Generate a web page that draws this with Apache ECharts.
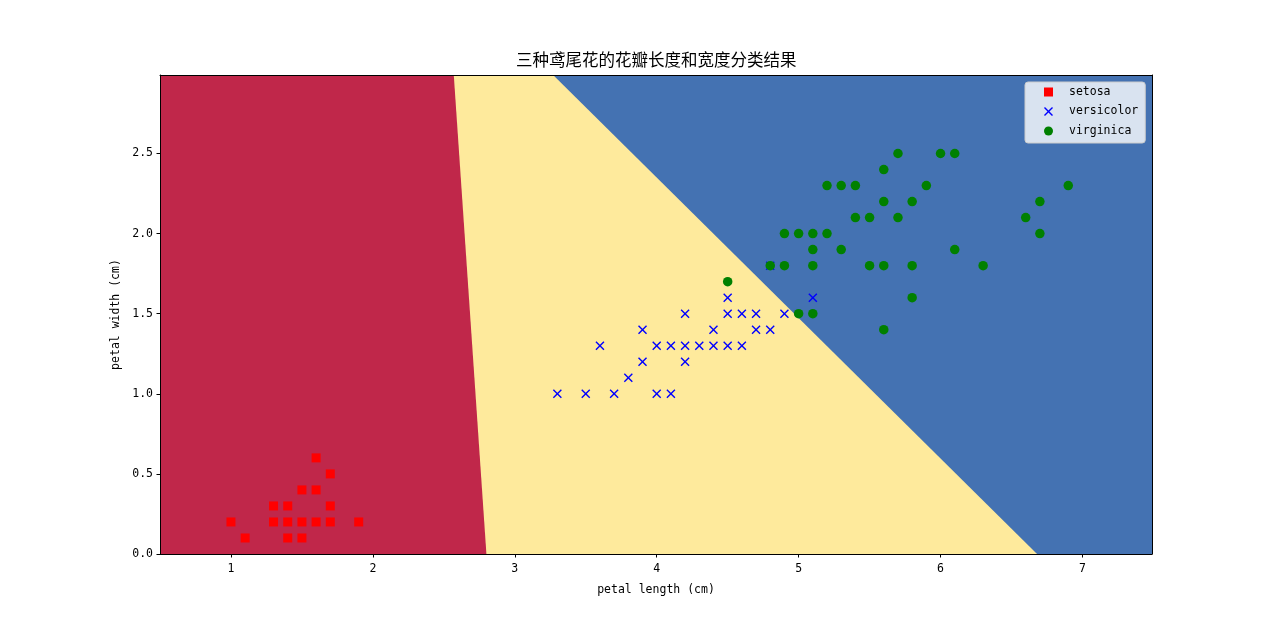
<!DOCTYPE html>
<html><head><meta charset="utf-8">
<script src="https://cdn.jsdelivr.net/npm/echarts@6/dist/echarts.min.js"></script>
<style>html,body{margin:0;padding:0;background:#fff}#c{width:1280px;height:623px}</style>
</head><body><div id="c"></div>
<script>
// ---- data ----
const titleText = '三种鸢尾花的花瓣长度和宽度分类结果';
const xName = 'petal length (cm)';
const yName = 'petal width (cm)';
const xRange = [0.5, 7.49];
const yRange = [0, 2.99];
const xTicks = [1, 2, 3, 4, 5, 6, 7];
const yTicks = [0, 0.5, 1, 1.5, 2, 2.5];
// decision boundaries (bottom point, top point)
const boundarySetosa = [[2.8, 0], [2.57, 2.99]];
const boundaryVirginica = [[6.68, 0], [3.27, 2.99]];
const classNames = ['setosa', 'versicolor', 'virginica'];
const setosa = [
  [1.6,0.6],[1.7,0.5],[1.5,0.4],[1.6,0.4],[1.3,0.3],[1.4,0.3],[1.7,0.3],
  [1.0,0.2],[1.3,0.2],[1.4,0.2],[1.5,0.2],[1.6,0.2],[1.7,0.2],[1.9,0.2],
  [1.1,0.1],[1.4,0.1],[1.5,0.1]
];
const versicolor = [
  [4.5,1.6],[5.1,1.6],[4.2,1.5],[4.5,1.5],[4.6,1.5],[4.7,1.5],[4.9,1.5],
  [3.9,1.4],[4.4,1.4],[4.7,1.4],[4.8,1.4],
  [3.6,1.3],[4.0,1.3],[4.1,1.3],[4.2,1.3],[4.3,1.3],[4.4,1.3],[4.5,1.3],[4.6,1.3],
  [3.9,1.2],[4.2,1.2],[3.8,1.1],
  [3.3,1.0],[3.5,1.0],[3.7,1.0],[4.0,1.0],[4.1,1.0],[4.8,1.8]
];
const virginica = [
  [5.7,2.5],[6.0,2.5],[6.1,2.5],[5.6,2.4],
  [5.2,2.3],[5.3,2.3],[5.4,2.3],[5.9,2.3],[6.9,2.3],
  [5.6,2.2],[5.8,2.2],[6.7,2.2],
  [5.4,2.1],[5.5,2.1],[5.7,2.1],[6.6,2.1],
  [4.9,2.0],[5.0,2.0],[5.1,2.0],[5.2,2.0],[6.7,2.0],
  [5.1,1.9],[5.3,1.9],[6.1,1.9],
  [4.8,1.8],[4.9,1.8],[5.1,1.8],[5.5,1.8],[5.6,1.8],[5.8,1.8],[6.3,1.8],
  [4.5,1.7],[5.8,1.6],[5.0,1.5],[5.1,1.5],[5.6,1.4]
];

// ---- styles ----
const MONO = '"DejaVu Sans Mono", "Noto Sans CJK SC", monospace';
const CJK = '"Noto Sans CJK SC", sans-serif';
const C_RED = '#C0274A', C_YEL = '#FEEA9C', C_BLUE = '#4472B2';
const xShape = 'path://M0,1.1L1.1,0L5,3.9L8.9,0L10,1.1L6.1,5L10,8.9L8.9,10L5,6.1L1.1,10L0,8.9L3.9,5Z';

const regionBlue = [[xRange[0], yRange[0]], [xRange[1], yRange[0]], [xRange[1], yRange[1]], [xRange[0], yRange[1]]];
const regionYel = [[xRange[0], yRange[0]], boundaryVirginica[0], boundaryVirginica[1], [xRange[0], yRange[1]]];
const regionRed = [[xRange[0], yRange[0]], boundarySetosa[0], boundarySetosa[1], [xRange[0], yRange[1]]];

function region(pts, color, z) {
  return {
    type: 'custom', silent: true, z: z, clip: true,
    xAxisIndex: 0, yAxisIndex: 0,
    data: [[pts[0][0], pts[0][1]]],
    renderItem: function (params, api) {
      return { type: 'polygon', shape: { points: pts.map(p => api.coord(p)) }, style: { fill: color } };
    }
  };
}

const axisCommon = {
  type: 'value', z: 10, splitLine: { show: false },
  axisLine: { show: true, onZero: false, lineStyle: { color: '#000', width: 1 } }
};

const chart = echarts.init(document.getElementById('c'), null, { renderer: 'canvas' });
chart.setOption({
  animation: false,
  backgroundColor: '#fff',
  title: {
    text: titleText, left: 511, top: 46,
    textStyle: { fontFamily: CJK, fontSize: 16.5, fontWeight: 'normal', color: '#000' }
  },
  grid: { left: 160, right: 128, top: 75, bottom: 69, containLabel: false },
  legend: {
    left: 1025, top: 82, orient: 'vertical',
    data: [
      { name: classNames[0], icon: 'rect' },
      { name: classNames[1], icon: xShape },
      { name: classNames[2], icon: 'circle' }
    ],
    itemWidth: 9, itemHeight: 9, itemGap: 5.5,
    padding: [3, 7, 5, 19],
    backgroundColor: 'rgba(255,255,255,0.8)', borderColor: '#cccccc', borderWidth: 1, borderRadius: 3,
    textStyle: { fontFamily: MONO, fontSize: 11.5, color: '#000', lineHeight: 14, padding: [0, 0, 0, 11] }
  },
  xAxis: [
    Object.assign({}, axisCommon, {
      min: xRange[0], max: xRange[1], position: 'bottom',
      name: xName, nameLocation: 'middle', nameGap: 30,
      nameTextStyle: { fontFamily: MONO, fontSize: 11.5, color: '#000' },
      axisTick: { show: true, inside: false, length: 3.5, lineStyle: { color: '#000' }, customValues: xTicks },
      axisLabel: { show: true, margin: 9, color: '#000', fontFamily: MONO, fontSize: 11.5, customValues: xTicks,
        formatter: v => String(v) }
    }),
    Object.assign({}, axisCommon, {
      min: xRange[0], max: xRange[1], position: 'top',
      axisTick: { show: false }, axisLabel: { show: false }
    })
  ],
  yAxis: [
    Object.assign({}, axisCommon, {
      min: yRange[0], max: yRange[1], position: 'left',
      name: yName, nameLocation: 'middle', nameGap: 35, nameRotate: 90,
      nameTextStyle: { fontFamily: MONO, fontSize: 11.5, color: '#000' },
      axisTick: { show: true, inside: false, length: 3.5, lineStyle: { color: '#000' }, customValues: yTicks },
      axisLabel: { show: true, margin: 7, color: '#000', fontFamily: MONO, fontSize: 11.5, customValues: yTicks,
        formatter: v => Number(v).toFixed(1) }
    }),
    Object.assign({}, axisCommon, {
      min: yRange[0], max: yRange[1], position: 'right',
      axisTick: { show: false }, axisLabel: { show: false }
    })
  ],
  series: [
    region(regionBlue, C_BLUE, 1),
    region(regionYel, C_YEL, 1),
    region(regionRed, C_RED, 1),
    { name: classNames[0], type: 'scatter', symbol: 'rect', symbolSize: 9, z: 3,
      itemStyle: { color: '#FF0000', opacity: 1 }, data: setosa },
    { name: classNames[1], type: 'scatter', symbol: xShape, symbolSize: 9, z: 4,
      itemStyle: { color: '#0000FF', opacity: 1 }, data: versicolor },
    { name: classNames[2], type: 'scatter', symbol: 'circle', symbolSize: 9.5, z: 5,
      itemStyle: { color: '#008000', opacity: 1 }, data: virginica }
  ]
});
</script></body></html>
